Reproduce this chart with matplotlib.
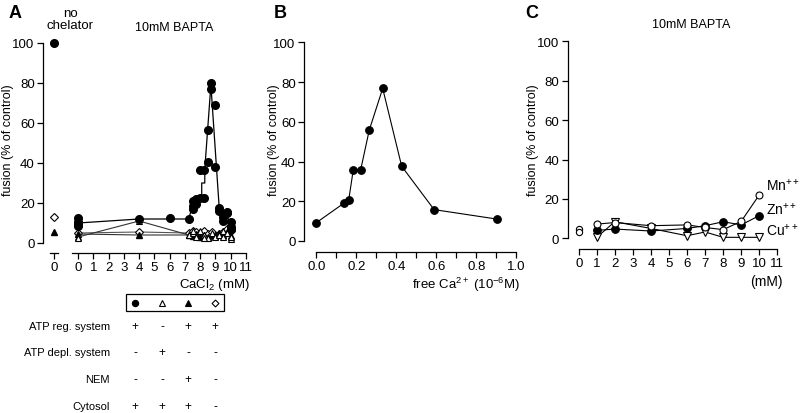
import numpy as np
import matplotlib.pyplot as plt
from matplotlib.patches import Rectangle

plt.rcParams['font.family'] = ['Liberation Sans', 'DejaVu Sans']
plt.rcParams['mathtext.fontset'] = 'custom'
plt.rcParams['mathtext.rm'] = 'Liberation Sans'
plt.rcParams['mathtext.it'] = 'Liberation Sans:italic'

# ---- panel A data (CaCl2 in mM, fusion in % of control) ----
nochel_fc = [100]
nochel_ft = [5.5]
nochel_od = [13]

fc_x = [0, 0, 0, 0, 4, 6, 7.25, 7.5, 7.5, 7.5, 7.75, 7.75, 8.0, 8.0, 8.25, 8.25,
        8.5, 8.5, 8.7, 8.7, 9.0, 9.0, 9.25, 9.25, 9.5, 9.5, 9.75, 9.75, 10, 10, 10]
fc_y = [12.5, 10.5, 8.5, 9.5, 12, 12.5, 12, 21, 18.5, 17, 22, 19.5, 22.3, 36.5, 22.6, 36.5,
        40.5, 56.5, 80, 77, 69, 38, 17.3, 16, 13, 11, 15, 15.5, 10.5, 7, 8]
fc_mean_x = [0, 4, 6, 7.25, 7.5, 7.75, 8.1, 8.1, 8.3, 8.3, 8.7, 9.25, 9.5, 9.75, 10]
fc_mean_y = [10, 12, 12, 12, 19, 21, 22, 30, 30, 37, 79, 17, 12, 14, 9]

clu_x = [0, 4, 7.25, 7.5, 7.75, 8.0, 8.25, 8.5, 8.75, 9.0, 9.25, 9.5, 9.75, 10]
ot_y = [3, 11, 4, 5, 3, 6, 4, 2.5, 5, 3, 4, 6, 5, 2]
ft_y = [4.5, 4, 4, 3.5, 4.5, 3, 4, 3, 4, 3.5, 5, 4, 5.5, 3.5]
od_y = [5, 5.5, 5, 6, 5.5, 5, 6, 4.5, 5.5, 3.5, 4.5, 5.5, 7, 6]
ot_extra_x = [0, 7.5, 8.25, 9.5, 10]
ot_extra_y = [2.5, 6, 2.5, 3, 3]

# ---- panel B data ----
ca_free = [0.0, 0.139, 0.162, 0.185, 0.222, 0.265, 0.332, 0.427, 0.589, 0.905]
fus_b = [9.2, 19.1, 20.6, 35.9, 35.9, 55.9, 76.8, 37.6, 15.8, 11]

# ---- panel C data ----
conc_c = [1, 2, 4, 6, 7, 8, 9, 10]
mn_y = [7.2, 8, 6.4, 6.8, 5.5, 4.4, 8.6, 22]
zn_y = [4, 4.7, 3.7, 5, 6.4, 8.4, 6.8, 11.5]
cu_y = [0.5, 8.4, 5, 1.3, 3.2, 0.5, 0.5, 0.5]
ctrl_c = [4.7, 3.0]

# ---- table under panel A ----
tab_markers = ['o', '^', '^', 'D']
tab_fill = ['black', 'white', 'black', 'white']
tab_rows = ['ATP reg. system', 'ATP depl. system', 'NEM', 'Cytosol']
tab_signs = [['+', '-', '+', '+'],
             ['-', '+', '-', '-'],
             ['-', '-', '+', '-'],
             ['+', '+', '+', '-']]

W, H = 800, 414
fig = plt.figure(figsize=(8, 4.14), dpi=100)


def px_axes(x0, x1, y0, y1):
    return fig.add_axes([x0 / W, 1 - y1 / H, (x1 - x0) / W, (y1 - y0) / H])


def style(ax, xb=None, yb=(0, 100), left=True):
    ax.spines['top'].set_visible(False)
    ax.spines['right'].set_visible(False)
    ax.patch.set_alpha(0)
    if left:
        ax.spines['left'].set_bounds(*yb)
        ax.set_yticks([0, 20, 40, 60, 80, 100])
    else:
        ax.spines['left'].set_visible(False)
        ax.set_yticks([])
    if xb is not None:
        ax.spines['bottom'].set_bounds(*xb)
    for s in ax.spines.values():
        s.set_linewidth(0.9)
    ax.tick_params(direction='out', length=4, width=0.9, labelsize=9.5, pad=2)
    ax.tick_params(which='minor', direction='out', length=4, width=0.9)


mk = dict(color='black', markersize=5.5, lw=0.8, markeredgewidth=0.8)

# panel A, no chelator column
a0 = px_axes(43, 62, 36, 254)
a0.set_xlim(-1.1, 0.8)
a0.set_ylim(-5, 104)
style(a0, xb=(-0.4, 0.4))
a0.set_xticks([0])
a0.plot([0] * len(nochel_fc), nochel_fc, 'o', color='black', markersize=5.5)
a0.plot([0] * len(nochel_ft), nochel_ft, '^', color='black', markersize=5)
a0.plot([0] * len(nochel_od), nochel_od, 'D', mfc='white', mec='black', markersize=4, mew=0.8)

# panel A, 10mM BAPTA
a1 = px_axes(65.8, 250.6, 36, 254)
a1.set_xlim(-0.8, 11.3)
a1.set_ylim(-5, 104)
style(a1, xb=(-0.4, 11), left=False)
a1.set_xticks(range(12))
a1.plot(clu_x, od_y, 'D', ls='-', mfc='white', mec='black', color='#555555', markersize=4, lw=0.8, mew=0.8)
a1.plot(clu_x, ft_y, '^', ls='-', color='#333333', mfc='black', mec='black', markersize=5, lw=0.8)
a1.plot(clu_x, ot_y, '^', ls='-', mfc='white', mec='black', color='#333333', markersize=5, lw=0.8, mew=0.8)
a1.plot(ot_extra_x, ot_extra_y, '^', mfc='white', mec='black', markersize=5, mew=0.8)
a1.plot(fc_mean_x, fc_mean_y, '-', color='black', lw=0.9)
a1.plot(fc_x, fc_y, 'o', color='black', markersize=5.5)

# panel B
b = px_axes(304, 520, 36, 252.7)
b.set_xlim(-0.0615, 1.0185)
b.set_ylim(-5.39, 103.7)
style(b, xb=(0, 1))
b.set_xticks(np.arange(0, 1.01, 0.2))
b.set_xticks(np.arange(0, 1.01, 0.1), minor=True)
b.set_xticklabels(['0.0', '0.2', '0.4', '0.6', '0.8', '1.0'])
b.plot(ca_free, fus_b, 'o-', **mk)

# panel C
c = px_axes(567.7, 782.7, 36, 250)
c.set_xlim(-0.61, 11.3)
c.set_ylim(-5.43, 103.2)
style(c, xb=(0, 11))
c.set_xticks(range(12))
c.plot(conc_c, cu_y, 'v', ls='-', mfc='white', mec='black', color='black', markersize=5.5, lw=0.8, mew=0.8)
c.plot(conc_c, zn_y, 'o-', **mk)
c.plot(conc_c, mn_y, 'o', ls='-', mfc='white', mec='black', color='black', markersize=5, lw=0.8, mew=0.8)
c.plot([0] * len(ctrl_c), ctrl_c, 'o', mfc='white', mec='black', markersize=4.5, mew=0.8)
c.text(10.35, 27.5, r'$\mathregular{Mn^{++}}$', fontsize=10, va='center')
c.text(10.35, 15, r'$\mathregular{Zn^{++}}$', fontsize=10, va='center')
c.text(10.35, 4.5, r'$\mathregular{Cu^{++}}$', fontsize=10, va='center')

# overlay in pixel units for labels and the condition table
ov = fig.add_axes([0, 0, 1, 1], zorder=-1)
ov.set_xlim(0, W)
ov.set_ylim(H, 0)
ov.axis('off')

ov.text(9, 14, 'A', fontsize=13, fontweight='bold', va='center')
ov.text(274, 14, 'B', fontsize=13, fontweight='bold', va='center')
ov.text(525, 14, 'C', fontsize=13, fontweight='bold', va='center')
ov.text(70, 20, 'no\nchelator', fontsize=9.5, ha='center', va='center', linespacing=1.0)
ov.text(174, 28, '10mM BAPTA', fontsize=9, ha='center', va='center')
ov.text(691, 25, '10mM BAPTA', fontsize=9, ha='center', va='center')
for xl in (8, 274, 533):
    ov.text(xl, 140, 'fusion (% of control)', fontsize=9, rotation=90, ha='center', va='center')
ov.text(250, 285, r'CaCl$\mathregular{_2}$ (mM)', fontsize=9.5, ha='right', va='center')
ov.text(520, 285, r'free Ca$\mathregular{^{2+}}$ (10$\mathregular{^{-6}}$M)', fontsize=9.5, ha='right', va='center')
ov.text(783, 282, '(mM)', fontsize=10, ha='right', va='center')

tab_x = [135, 162, 188, 215]
row_y = [327, 353, 380, 407]
ov.add_patch(Rectangle((126, 295), 98, 17, fill=False, lw=0.9, ec='black'))
for xx, m, f in zip(tab_x, tab_markers, tab_fill):
    ov.plot(xx, 303.5, m, mfc=f, mec='black', markersize=4.5 if m != 'D' else 3.5, mew=0.8)
for yy, name, signs in zip(row_y, tab_rows, tab_signs):
    ov.text(110, yy, name, fontsize=8, ha='right', va='center')
    for xx, s in zip(tab_x, signs):
        ov.text(xx, yy, s, fontsize=8.5, ha='center', va='center')

fig.savefig('out.png', dpi=100)
